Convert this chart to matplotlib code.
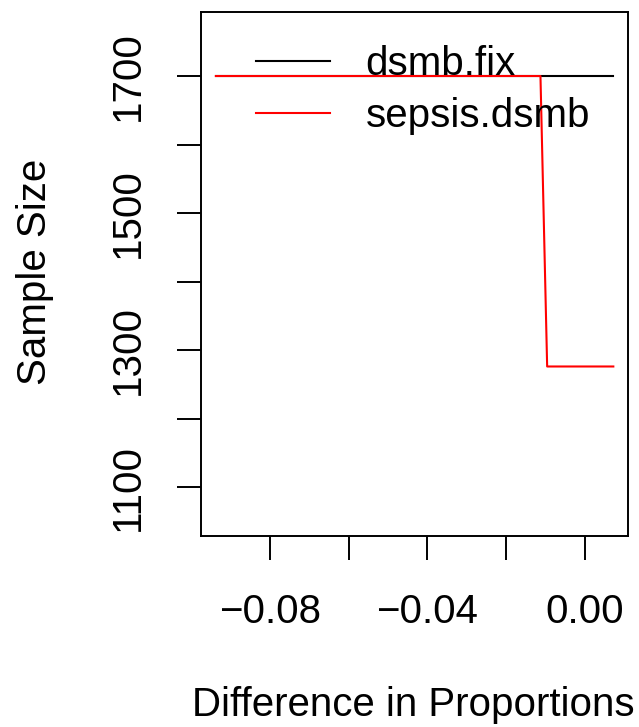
import matplotlib
matplotlib.use("Agg")
import matplotlib.pyplot as plt

plt.rcParams['font.family'] = ['Liberation Sans', 'DejaVu Sans']

# data
x_fix = [-0.0937, 0.0072]
y_fix = [1700, 1700]
x_sepsis = [-0.0937, -0.0113, -0.0096, 0.0072]
y_sepsis = [1700, 1700, 1276, 1276]
series_labels = ["dsmb.fix", "sepsis.dsmb"]
xticks = [-0.08, -0.06, -0.04, -0.02, 0.00]
xtick_labels = ["\u22120.08", "", "\u22120.04", "", "0.00"]
yticks = [1100, 1200, 1300, 1400, 1500, 1600, 1700]
ytick_labels = ["1100", "", "1300", "", "1500", "", "1700"]

fs = 29
fig = plt.figure(figsize=(6.39, 7.27), dpi=100)
ax = fig.add_axes([201.3/639, 1-535.7/727, (628.3-201.3)/639, (535.7-12.3)/727])

ax.plot(x_fix, y_fix, color="black", lw=1.5, label=series_labels[0])
ax.plot(x_sepsis, y_sepsis, color="red", lw=1.5, label=series_labels[1])

ax.set_xlim(-0.0974, 0.0110)
ax.set_ylim(1029, 1793)
ax.set_xticks(xticks)
ax.set_xticklabels(xtick_labels)
ax.set_yticks(yticks)
ax.set_yticklabels(ytick_labels, rotation=90, va="center")
ax.tick_params(axis="both", direction="out", length=17.3, width=1.4, labelsize=fs)
ax.tick_params(axis="x", pad=24)
ax.tick_params(axis="y", pad=22)
for s in ax.spines.values():
    s.set_linewidth(1.4)

fig.text(413/639, 1-705/727, "Difference in Proportions", fontsize=fs, ha="center", va="center")
fig.text(35/639, 1-272/727, "Sample Size", fontsize=fs, ha="center", va="center", rotation=90)

ax.legend(loc="upper left", bbox_to_anchor=(0.127, 0.938), frameon=False, fontsize=fs,
          handlelength=1.84, handletextpad=0.89, labelspacing=0.35, borderaxespad=0, borderpad=0)

fig.savefig("out.png", dpi=100)
